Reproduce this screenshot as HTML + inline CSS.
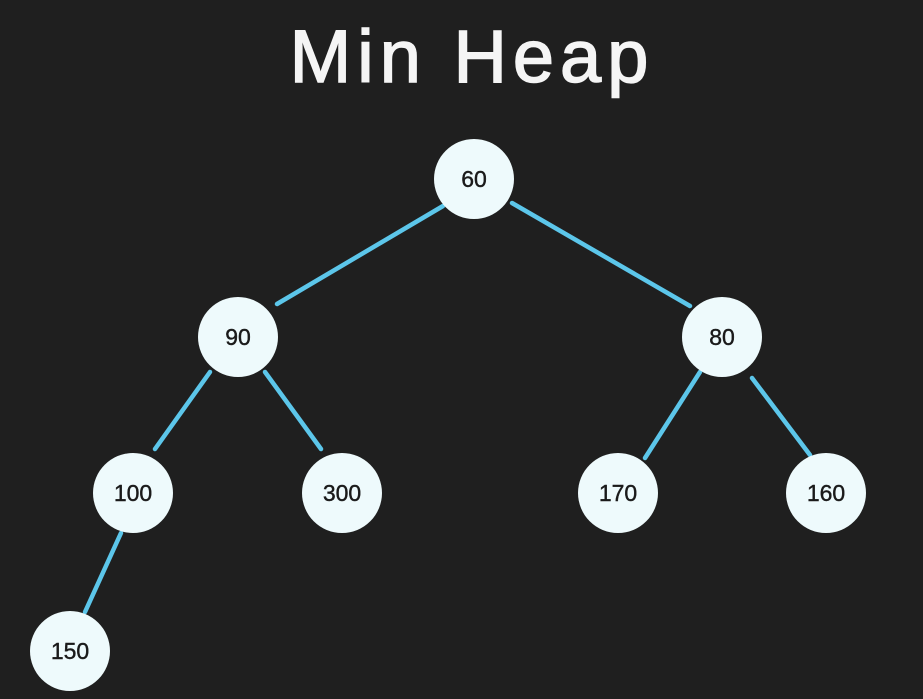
<!DOCTYPE html>
<html><head><style>
html,body{margin:0;padding:0;background:#1f1f1f;}
svg{display:block}
</style></head><body>
<svg width="923" height="699" xmlns="http://www.w3.org/2000/svg">
<rect width="923" height="699" fill="#1f1f1f"/>
<text x="472" y="82" text-anchor="middle" font-family="Liberation Sans, sans-serif" font-size="74" fill="#f5f5f5" stroke="#f5f5f5" stroke-width="1.5" letter-spacing="6">Min Heap</text>
<g stroke="#5cc6ea" stroke-width="4.5" stroke-linecap="round">
<line x1="443" y1="206" x2="277" y2="304"/>
<line x1="512" y1="203" x2="690" y2="306"/>
<line x1="210" y1="372" x2="155" y2="449"/>
<line x1="265" y1="372" x2="321" y2="449"/>
<line x1="700" y1="372" x2="645" y2="458"/>
<line x1="752" y1="378" x2="810" y2="455"/>
<line x1="121" y1="533" x2="85" y2="612"/>
</g>
<g fill="#eefafc">
<circle cx="474" cy="179" r="40"/>
<circle cx="238" cy="337" r="40"/>
<circle cx="722" cy="337" r="40"/>
<circle cx="133" cy="493" r="40"/>
<circle cx="342" cy="493" r="40"/>
<circle cx="618" cy="493" r="40"/>
<circle cx="826" cy="493" r="40"/>
<circle cx="70" cy="651" r="40"/>
</g>
<g font-family="Liberation Sans, sans-serif" font-size="23" fill="#1a1a1a" stroke="#1a1a1a" stroke-width="0.4" text-anchor="middle">
<text x="474" y="187">60</text>
<text x="238" y="345">90</text>
<text x="722" y="345">80</text>
<text x="133" y="501">100</text>
<text x="342" y="501">300</text>
<text x="618" y="501">170</text>
<text x="826" y="501">160</text>
<text x="70" y="659">150</text>
</g>
</svg>
</body></html>
